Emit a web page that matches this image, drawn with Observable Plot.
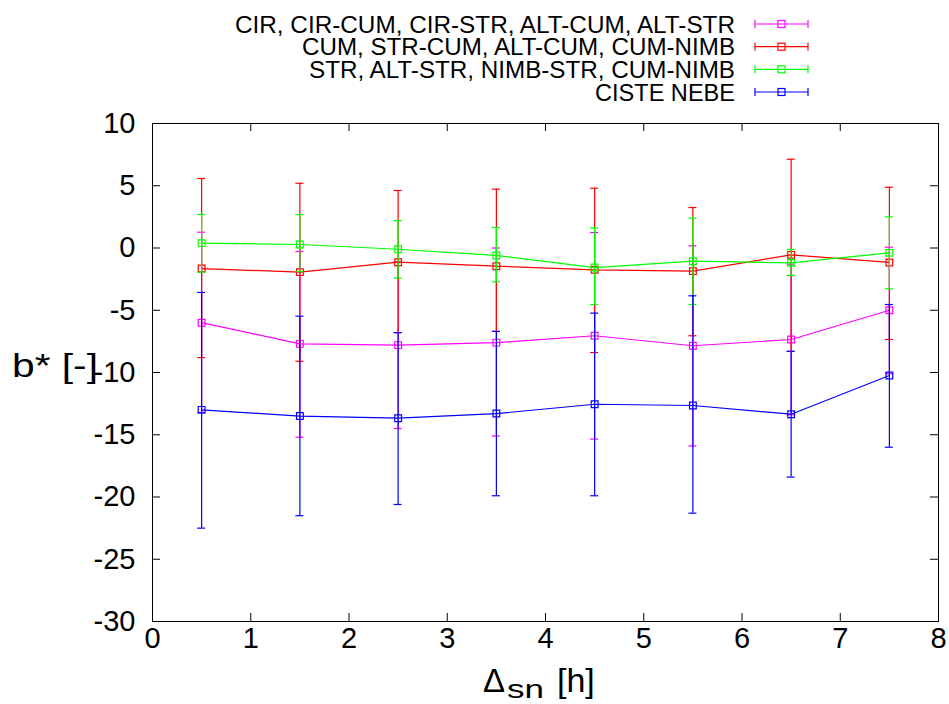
<!DOCTYPE html>
<html><head><meta charset="utf-8">
<script src="https://cdn.jsdelivr.net/npm/d3@7"></script>
<script src="https://cdn.jsdelivr.net/npm/@observablehq/plot@0.6"></script>
<style>
body{margin:0;background:#fff;font-family:"Liberation Sans",Arial,sans-serif;}
#wrap{position:relative;width:949px;height:704px;}
#ov{position:absolute;left:0;top:0;pointer-events:none;}
</style></head><body>
<div id="wrap"></div>
<script>
// Δsn [h]
const dsn = [0.5, 1.5, 2.5, 3.5, 4.5, 5.5, 6.5, 7.5];
const seriesNames = [
  "CIR, CIR-CUM, CIR-STR, ALT-CUM, ALT-STR",
  "CUM, STR-CUM, ALT-CUM, CUM-NIMB",
  "STR, ALT-STR, NIMB-STR, CUM-NIMB",
  "CISTE NEBE"
];
const seriesColors = ["#ff00ff", "#ff0000", "#00ff00", "#0000ff"];

const cirMean = [-6.0, -7.7, -7.8, -7.6, -7.05, -7.85, -7.35, -5.0];
const cirHigh = [1.27, -0.28, -1.1, 0.0, 1.24, 0.17, -1.3, 0.06];
const cirLow  = [-13.2, -15.2, -14.5, -15.1, -15.35, -15.9, -13.4, -10.1];

const cumMean = [-1.65, -1.94, -1.14, -1.46, -1.75, -1.86, -0.55, -1.16];
const cumHigh = [5.58, 5.2, 4.62, 4.73, 4.8, 3.25, 7.13, 4.88];
const cumLow  = [-8.8, -9.1, -6.8, -6.7, -8.4, -7.05, -8.3, -7.35];

const strMean = [0.39, 0.28, -0.1, -0.6, -1.57, -1.06, -1.19, -0.39];
const strHigh = [2.69, 2.69, 2.2, 1.65, 1.62, 2.4, -0.12, 2.5];
const strLow  = [-1.94, -1.9, -2.42, -2.72, -4.54, -4.54, -2.2, -3.28];

const clrMean = [-13.0, -13.5, -13.67, -13.3, -12.55, -12.65, -13.35, -10.24];
const clrHigh = [-3.57, -5.48, -6.8, -6.7, -5.23, -3.84, -8.3, -4.54];
const clrLow  = [-22.5, -21.5, -20.6, -19.9, -19.9, -21.3, -18.4, -16.0];

const xTicks = [0, 1, 2, 3, 4, 5, 6, 7, 8];
const yTicks = [-30, -25, -20, -15, -10, -5, 0, 5, 10];

const seriesData = [
  [cirMean, cirLow, cirHigh],
  [cumMean, cumLow, cumHigh],
  [strMean, strLow, strHigh],
  [clrMean, clrLow, clrHigh]
];

const W = 949, H = 704, mL = 152, mR = 11, mT = 123, mB = 83;
const pw = W - mL - mR, ph = H - mT - mB, tk = 8;

const marks = [];
seriesData.forEach(([m, lo, hi], k) => {
  const rows = dsn.map((x, i) => ({x, y: m[i], lo: lo[i], hi: hi[i]}));
  const c = seriesColors[k];
  marks.push(
    Plot.ruleX(rows, {x: "x", y1: "lo", y2: "hi", stroke: c, strokeWidth: 1.2}),
    Plot.ruleY(rows, {x1: "x", x2: "x", y: "hi", insetLeft: -4, insetRight: -4, stroke: c, strokeWidth: 1.2}),
    Plot.ruleY(rows, {x1: "x", x2: "x", y: "lo", insetLeft: -4, insetRight: -4, stroke: c, strokeWidth: 1.2}),
    Plot.line(rows, {x: "x", y: "y", stroke: c, strokeWidth: 1.2}),
    Plot.dot(rows, {x: "x", y: "y", symbol: "square", r: 3.8, stroke: c, fill: "none", strokeWidth: 1.2})
  );
});

const chart = Plot.plot({
  width: W, height: H,
  marginLeft: mL, marginRight: mR, marginTop: mT, marginBottom: mB,
  style: {fontFamily: "Liberation Sans, Arial, sans-serif", color: "black", background: "white"},
  x: {domain: [0, 8]},
  y: {domain: [-30, 10]},
  marks: [
    ...marks,
    Plot.tickY(yTicks, {y: d => d, insetRight: pw - tk, stroke: "black"}),
    Plot.tickY(yTicks, {y: d => d, insetLeft: pw - tk, stroke: "black"}),
    Plot.tickX(xTicks, {x: d => d, insetTop: ph - tk, stroke: "black"}),
    Plot.tickX(xTicks, {x: d => d, insetBottom: ph - tk, stroke: "black"}),
    Plot.frame({stroke: "black", strokeWidth: 1}),
    Plot.axisY(yTicks, {tickSize: 0, tickPadding: 17, fontSize: 29, label: null, tickFormat: d => String(d)}),
    Plot.axisX(xTicks, {tickSize: 0, tickPadding: 6, fontSize: 29, label: null, tickFormat: d => String(d)})
  ]
});
const wrap = document.getElementById("wrap");
wrap.appendChild(chart);

// overlay: legend and axis titles
const ns = "http://www.w3.org/2000/svg";
const ov = document.createElementNS(ns, "svg");
ov.setAttribute("id", "ov");
ov.setAttribute("width", W); ov.setAttribute("height", H);
ov.setAttribute("font-family", "Liberation Sans, Arial, sans-serif");
wrap.appendChild(ov);
function el(tag, attrs, text) {
  const e = document.createElementNS(ns, tag);
  for (const k in attrs) e.setAttribute(k, attrs[k]);
  if (text != null) e.textContent = text;
  ov.appendChild(e);
  return e;
}
const legY = [24, 46.7, 69.3, 92];
const legW = [500, 433, 426, 140];
seriesNames.forEach((name, k) => {
  const y = legY[k], c = seriesColors[k];
  el("text", {x: 735, y: y + 8.5, "text-anchor": "end", "font-size": 23, fill: "black",
    textLength: legW[k], lengthAdjust: "spacingAndGlyphs"}, name);
  el("line", {x1: 755, x2: 808, y1: y, y2: y, stroke: c, "stroke-width": 1.2});
  el("line", {x1: 755, x2: 755, y1: y - 4, y2: y + 4, stroke: c, "stroke-width": 1.2});
  el("line", {x1: 808, x2: 808, y1: y - 4, y2: y + 4, stroke: c, "stroke-width": 1.2});
  el("rect", {x: 778, y: y - 3.5, width: 7, height: 7, stroke: c, fill: "none", "stroke-width": 1.2});
});
el("text", {x: 12, y: 377, "font-size": 34, fill: "black", textLength: 86, lengthAdjust: "spacingAndGlyphs"}, "b* [-]");
el("text", {x: 483, y: 692, "font-size": 33, fill: "black"}, "Δ");
el("text", {x: 507, y: 698, "font-size": 26, fill: "black", textLength: 37, lengthAdjust: "spacingAndGlyphs"}, "sn");
el("text", {x: 557, y: 692, "font-size": 34, fill: "black"}, "[h]");
</script>
</body></html>
